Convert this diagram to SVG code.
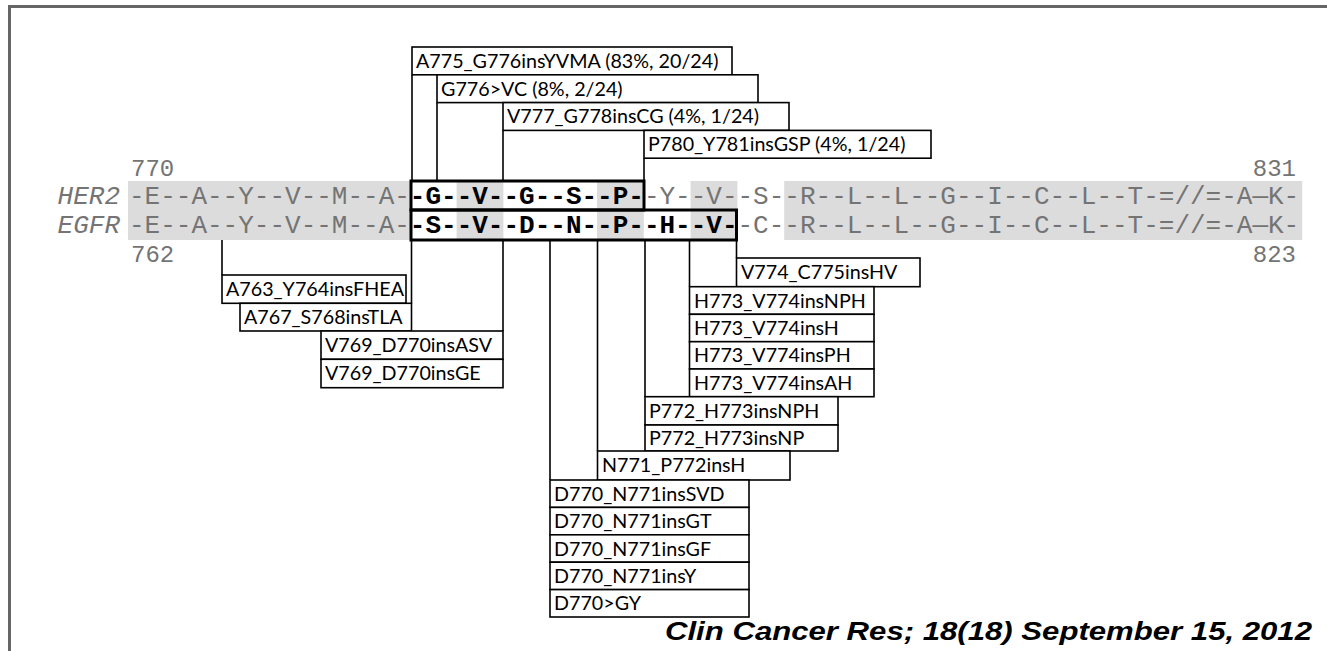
<svg xmlns="http://www.w3.org/2000/svg" width="1327" height="651" viewBox="0 0 1327 651">
<style>
.lb rect{fill:#fff;stroke:#000;stroke-width:1.6}
.lb text{font-family:Lato,"Open Sans",sans-serif;font-size:19.7px;fill:#000}
.seq{font-family:"Liberation Mono",monospace;font-size:26px;fill:#747474}
.b{font-weight:bold;fill:#000}
.num{font-family:"Liberation Mono",monospace;font-size:24px;fill:#747474}
.gene{font-family:"Liberation Mono",monospace;font-size:26px;font-style:italic;fill:#747474}
.cn line{stroke:#000;stroke-width:1.6}
.shade{fill:#dcdcdc}
</style>
<rect width="1327" height="651" fill="#fff"/>
<g id="frame">
<line x1="8" y1="6.5" x2="1327" y2="6.5" stroke="#666" stroke-width="3"/>
<line x1="9.5" y1="5" x2="9.5" y2="651" stroke="#666" stroke-width="3"/>
</g>
<g id="sequence">
<rect class="shade" x="128" y="181" width="283" height="59"/>
<rect class="shade" x="456.6" y="181" width="46.8" height="59"/>
<rect class="shade" x="597" y="181" width="46.8" height="59"/>
<rect class="shade" x="690.6" y="181" width="46.8" height="59"/>
<rect class="shade" x="784.2" y="181" width="518" height="59"/>
<text class="gene" x="120" y="203.5" text-anchor="end">HER2</text>
<text class="gene" x="120" y="233" text-anchor="end">EGFR</text>
<text class="num" x="131" y="176">770</text>
<text class="num" x="131" y="262">762</text>
<text class="num" x="1296" y="176" text-anchor="end">831</text>
<text class="num" x="1296" y="262" text-anchor="end">823</text>
<text class="seq" x="129" y="203.5">-E--A--Y--V--M--A-<tspan class="b">-G--V--G--S--P-</tspan>-Y--V--S--R--L--L--G--I--C--L--T-=//=-A—K-</text>
<text class="seq" x="129" y="233">-E--A--Y--V--M--A-<tspan class="b">-S--V--D--N--P--H--V-</tspan>-C--R--L--L--G--I--C--L--T-=//=-A—K-</text>
<rect x="411" y="181" width="233" height="29" fill="none" stroke="#000" stroke-width="3"/>
<rect x="411" y="210" width="325.5" height="30" fill="none" stroke="#000" stroke-width="3"/>
</g>
<g id="connectors" class="cn">
<line x1="412" y1="74.8" x2="412" y2="181"/>
<line x1="437" y1="102.6" x2="437" y2="181"/>
<line x1="503" y1="130.4" x2="503" y2="181"/>
<line x1="644" y1="158.2" x2="644" y2="181"/>
<line x1="222" y1="240" x2="222" y2="275"/>
<line x1="411.5" y1="240" x2="411.5" y2="303.3"/>
<line x1="503" y1="240" x2="503" y2="331"/>
<line x1="550" y1="240" x2="550" y2="480"/>
<line x1="597.5" y1="240" x2="597.5" y2="451"/>
<line x1="645" y1="240" x2="645" y2="397"/>
<line x1="689.5" y1="240" x2="689.5" y2="286.7"/>
<line x1="736.5" y1="240" x2="736.5" y2="258"/>
</g>
<g id="n-a775" class="lb"><rect x="412" y="47" width="320" height="27.8"/><text x="416" y="67.8">A775_G776insYVMA (83%, 20/24)</text></g>
<g id="n-g776" class="lb"><rect x="437" y="74.8" width="321" height="27.8"/><text x="441" y="95.6">G776&gt;VC (8%, 2/24)</text></g>
<g id="n-v777" class="lb"><rect x="503" y="102.6" width="286" height="27.8"/><text x="507" y="123.4">V777_G778insCG (4%, 1/24)</text></g>
<g id="n-p780" class="lb"><rect x="644" y="130.4" width="287" height="27.8"/><text x="648" y="151.2">P780_Y781insGSP (4%, 1/24)</text></g>
<g id="n-a763" class="lb"><rect x="222" y="275" width="184" height="28.3"/><text x="226" y="296.3">A763_Y764insFHEA</text></g>
<g id="n-a767" class="lb"><rect x="240" y="303.3" width="171.5" height="27.7"/><text x="244" y="324.3">A767_S768insTLA</text></g>
<g id="n-v769a" class="lb"><rect x="321" y="331" width="182" height="28.3"/><text x="325" y="352.1">V769_D770insASV</text></g>
<g id="n-v769g" class="lb"><rect x="321" y="359.3" width="182" height="28.4"/><text x="325" y="380.4">V769_D770insGE</text></g>
<g id="n-v774" class="lb"><rect x="736.5" y="258" width="183.5" height="28.7"/><text x="741" y="279.4">V774_C775insHV</text></g>
<g id="n-h773a" class="lb"><rect x="689.5" y="286.7" width="184.5" height="27.6"/><text x="694" y="307.6">H773_V774insNPH</text></g>
<g id="n-h773b" class="lb"><rect x="689.5" y="314.3" width="184.5" height="27.4"/><text x="694" y="335.1">H773_V774insH</text></g>
<g id="n-h773c" class="lb"><rect x="689.5" y="341.7" width="184.5" height="27.3"/><text x="694" y="362.4">H773_V774insPH</text></g>
<g id="n-h773d" class="lb"><rect x="689.5" y="369" width="184.5" height="27.7"/><text x="694" y="389.8">H773_V774insAH</text></g>
<g id="n-p772a" class="lb"><rect x="645" y="396.7" width="193" height="28.3"/><text x="649" y="417.8">P772_H773insNPH</text></g>
<g id="n-p772b" class="lb"><rect x="645" y="425" width="193" height="26"/><text x="649" y="444.8">P772_H773insNP</text></g>
<g id="n-n771" class="lb"><rect x="597.5" y="451" width="192.5" height="29"/><text x="602" y="472.3">N771_P772insH</text></g>
<g id="n-d770a" class="lb"><rect x="550" y="480" width="199" height="27.4"/><text x="554" y="500.8">D770_N771insSVD</text></g>
<g id="n-d770b" class="lb"><rect x="550" y="507.4" width="199" height="27.4"/><text x="554" y="528.2">D770_N771insGT</text></g>
<g id="n-d770c" class="lb"><rect x="550" y="534.8" width="199" height="27.4"/><text x="554" y="555.6">D770_N771insGF</text></g>
<g id="n-d770d" class="lb"><rect x="550" y="562.2" width="199" height="27.4"/><text x="554" y="583">D770_N771insY</text></g>
<g id="n-d770e" class="lb"><rect x="550" y="589.6" width="199" height="27.4"/><text x="554" y="610.4">D770&gt;GY</text></g>
<text id="citation" x="665" y="640" font-family="'Liberation Sans',Arial,sans-serif" font-size="25" font-weight="bold" font-style="italic" fill="#000" textLength="647" lengthAdjust="spacingAndGlyphs">Clin Cancer Res; 18(18) September 15, 2012</text>
</svg>
